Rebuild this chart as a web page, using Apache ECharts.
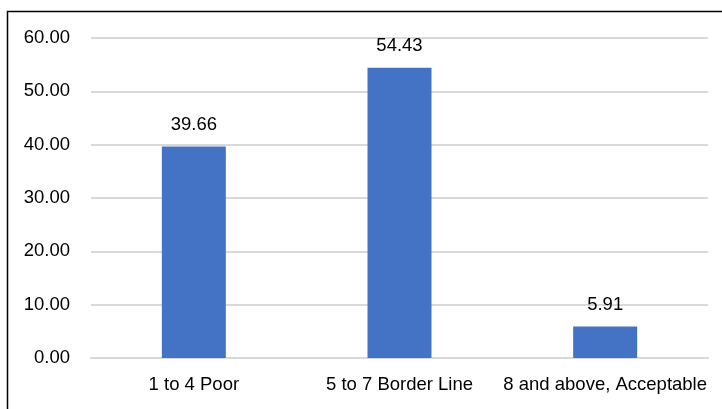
<!DOCTYPE html>
<html><head><meta charset="utf-8">
<script src="https://cdn.jsdelivr.net/npm/echarts@6/dist/echarts.min.js"></script>
<style>html,body{margin:0;padding:0;background:#fff}#c{width:722px;height:409px}</style>
</head><body><div id="c"></div>
<script>
const categories = ['1 to 4 Poor', '5 to 7 Border Line', '8 and above, Acceptable'];
const values = [39.66, 54.43, 5.91];
const yTicks = {min: 0, max: 60, interval: 10};

const chart = echarts.init(document.getElementById('c'), null, {renderer: 'canvas'});
const font = '"Liberation Sans", Arial, sans-serif';
const fs = 18.5;
chart.setOption({
  animation: false,
  grid: {left: 91, right: 14, top: 38, bottom: 51},
  graphic: [{
    type: 'rect', shape: {x: 7.5, y: 11.5, width: 800, height: 500},
    style: {fill: 'none', stroke: '#000', lineWidth: 1.5}, z: 100, silent: true
  }],
  xAxis: {
    type: 'category', data: categories,
    axisLine: {show: true, lineStyle: {color: '#d9d9d9', width: 2}},
    axisTick: {show: false},
    axisLabel: {color: '#000', fontFamily: font, fontSize: fs, margin: 17, interval: 0}
  },
  yAxis: {
    type: 'value', min: yTicks.min, max: yTicks.max, interval: yTicks.interval,
    axisLine: {show: false}, axisTick: {show: false},
    splitLine: {lineStyle: {color: '#d9d9d9', width: 2}},
    axisLabel: {color: '#000', fontFamily: font, fontSize: fs, margin: 21,
      formatter: v => v.toFixed(2)}
  },
  series: [{
    type: 'bar', data: values, barWidth: 64,
    itemStyle: {color: '#4472c4'},
    label: {show: true, position: 'top', distance: 12, color: '#000',
      fontFamily: font, fontSize: fs, formatter: p => p.value.toFixed(2)}
  }]
});
</script></body></html>
